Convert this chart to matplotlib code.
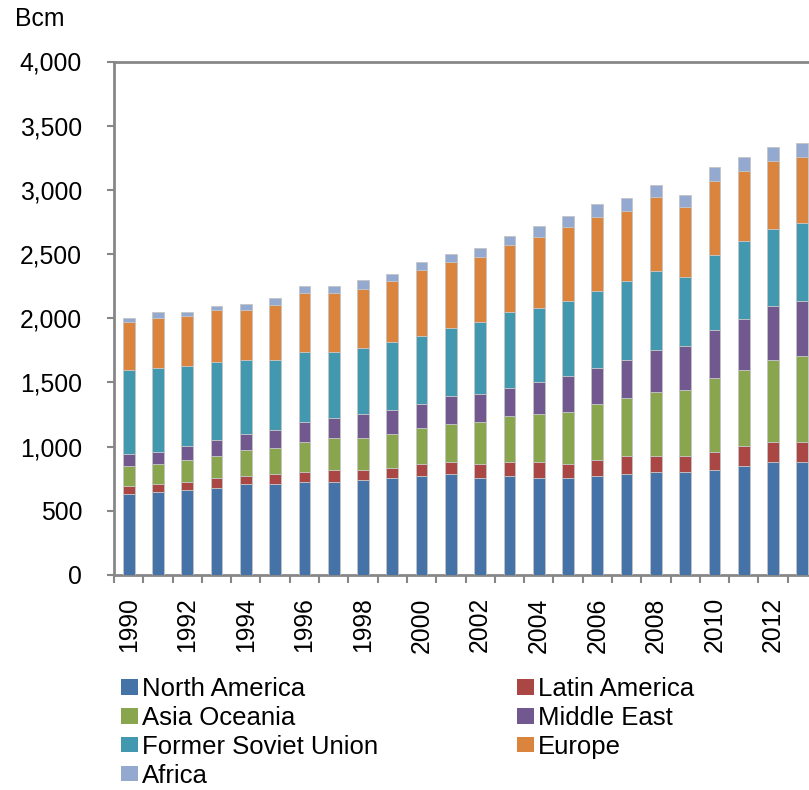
import matplotlib
matplotlib.use("Agg")
import matplotlib.pyplot as plt
from matplotlib.patches import Rectangle
from matplotlib.ticker import FuncFormatter, FixedLocator
import numpy as np

plt.rcParams['font.family'] = ['Liberation Sans', 'DejaVu Sans']

years = list(range(1990, 2014))

north_america = [634, 650, 665, 678, 709, 709, 725, 725, 740, 756, 771, 787,
                 756, 771, 756, 756, 771, 787, 802, 802, 818, 849, 880, 880]
latin_america = [60, 59, 60, 78, 62, 78, 77, 93, 78, 77, 94, 93,
                 109, 109, 124, 109, 125, 140, 125, 125, 140, 155, 155, 155]
asia_oceania = [158, 159, 174, 174, 205, 205, 236, 251, 251, 267, 282, 298,
                329, 360, 376, 406, 438, 453, 500, 515, 577, 594, 640, 671]
middle_east = [93, 93, 106, 124, 122, 140, 153, 153, 184, 184, 183, 215,
               217, 215, 248, 277, 276, 292, 323, 339, 370, 400, 417, 432]
former_soviet_union = [653, 649, 621, 603, 574, 540, 543, 512, 512, 528, 532, 528,
                       557, 590, 572, 590, 606, 622, 621, 544, 591, 606, 605, 606]
europe = [372, 391, 388, 404, 389, 435, 466, 466, 466, 482, 512, 515,
          512, 528, 559, 575, 575, 543, 575, 543, 574, 544, 529, 513]
africa = [34, 47, 34, 34, 49, 50, 50, 50, 66, 49, 62, 63,
          65, 65, 81, 81, 96, 97, 93, 94, 109, 109, 108, 108]

series_names = ["North America", "Latin America", "Asia Oceania", "Middle East",
                "Former Soviet Union", "Europe", "Africa"]
series_values = [north_america, latin_america, asia_oceania, middle_east,
                 former_soviet_union, europe, africa]
series_colors = ["#4572A7", "#AA4643", "#89A54E", "#71588F",
                 "#4198AF", "#DB843D", "#93A9CF"]

W, H = 809, 790
fig = plt.figure(figsize=(W / 100, H / 100), dpi=100)

# plot area in pixel coordinates (extends past the right edge of the canvas)
left, right, top, bottom = 114, 817, 61.5, 575
ax = fig.add_axes([left / W, (H - bottom) / H, (right - left) / W, (bottom - top) / H])

x = np.arange(len(years))
base = np.zeros(len(years))
for name, vals, col in zip(series_names, series_values, series_colors):
    v = np.array(vals, dtype=float)
    ax.bar(x, v, bottom=base, width=0.4, color=col, edgecolor="#c4c4c4",
           linewidth=0.6, label=name, zorder=3)
    base += v

ax.set_xlim(-0.5, len(years) - 0.5)
ax.set_ylim(0, 4000)

axis_gray = "#878787"
for side in ["left", "bottom", "top"]:
    ax.spines[side].set_color(axis_gray)
    ax.spines[side].set_linewidth(2.0)
ax.spines["right"].set_visible(False)

ax.set_yticks(np.arange(0, 4001, 500))
ax.yaxis.set_major_formatter(FuncFormatter(lambda v, p: f"{int(v):,}"))
ax.tick_params(axis="y", direction="out", length=5, width=1.5, color=axis_gray,
               labelsize=17.8, pad=18, labelcolor="black")

# ticks between categories, year labels under every other bar
ax.xaxis.set_major_locator(FixedLocator(np.arange(-0.5, len(years), 1.0)))
ax.xaxis.set_minor_locator(FixedLocator(x[::2]))
ax.set_xticklabels([], minor=False)
ax.set_xticklabels([str(y) for y in years[::2]], minor=True, rotation=90)
ax.tick_params(axis="x", which="major", direction="out", length=6, width=1.5,
               color=axis_gray)
ax.tick_params(axis="x", which="minor", length=0, labelsize=17.8, pad=16,
               labelcolor="black")

fig.text(15 / W, 1 - 19 / H, "Bcm", fontsize=17.8, ha="left", va="center")

handles = [Rectangle((0, 0), 1, 1, facecolor=c, edgecolor="none") for c in series_colors]
leg_kw = dict(frameon=False, fontsize=18.5, handlelength=0.66, handleheight=0.55,
              handletextpad=0.16, labelspacing=0.19, borderpad=0, borderaxespad=0,
              loc="upper left")
col1 = [0, 2, 4, 6]
col2 = [1, 3, 5]
fig.legend([handles[i] for i in col1], [series_names[i] for i in col1],
           bbox_to_anchor=(121 / W, 1 - 677 / H), **leg_kw)
fig.legend([handles[i] for i in col2], [series_names[i] for i in col2],
           bbox_to_anchor=(517 / W, 1 - 677 / H), **leg_kw)

fig.savefig("out.png", dpi=100)
